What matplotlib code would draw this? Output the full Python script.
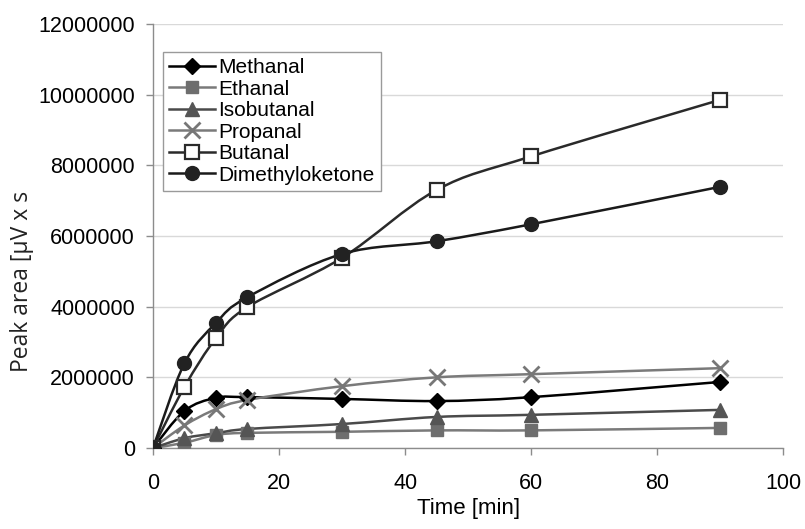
"""Peak area of carbonyl compounds over time (smoothed Excel-style lines)."""

import matplotlib

matplotlib.use("Agg")
import matplotlib.pyplot as plt
import numpy as np
from matplotlib.lines import Line2D
from matplotlib.patches import PathPatch
from matplotlib.path import Path


time_min = [0, 5, 10, 15, 30, 45, 60, 90]

methanal = [0, 1050000, 1420000, 1440000, 1390000, 1330000, 1440000, 1870000]
ethanal = [0, 150000, 370000, 430000, 460000, 500000, 500000, 570000]
isobutanal = [0, 280000, 420000, 540000, 680000, 880000, 940000, 1080000]
propanal = [0, 640000, 1100000, 1360000, 1750000, 2000000, 2090000, 2260000]
butanal = [0, 1730000, 3110000, 3990000, 5380000, 7300000, 8250000, 9850000]
dimethyloketone = [0, 2400000, 3540000, 4270000, 5490000, 5850000, 6330000, 7390000]

labels = ["Methanal", "Ethanal", "Isobutanal", "Propanal", "Butanal", "Dimethyloketone"]

x_ticks = [0, 20, 40, 60, 80, 100]
y_ticks = [0, 2000000, 4000000, 6000000, 8000000, 10000000, 12000000]

TICK_FONT = "Liberation Sans"


def smooth_path(x, y):
    """Bezier path through the points (Catmull-Rom, like Excel smoothed lines)."""
    pts = np.column_stack([x, y]).astype(float)
    padded = np.vstack([pts[0], pts, pts[-1]])
    verts = [pts[0]]
    codes = [Path.MOVETO]
    for i in range(len(pts) - 1):
        p0, p1, p2, p3 = padded[i], padded[i + 1], padded[i + 2], padded[i + 3]
        c1 = p1 + (p2 - p0) / 6.0
        c2 = p2 - (p3 - p1) / 6.0
        verts += [c1, c2, p2]
        codes += [Path.CURVE4] * 3
    return Path(verts, codes)


def main():
    fig = plt.figure(figsize=(8.05, 5.29), dpi=100)
    ax = fig.add_axes([0.190, 0.153, 0.783, 0.802])

    series = [
        (methanal, "#000000", dict(marker="D", ms=8, mfc="#000000", mec="#000000")),
        (ethanal, "#7a7a7a", dict(marker="s", ms=9, mfc="#6e6e6e", mec="#6e6e6e")),
        (isobutanal, "#4a4a4a", dict(marker="^", ms=10, mfc="#555555", mec="#555555")),
        (propanal, "#7a7a7a", dict(marker="x", ms=11, mew=2, mec="#777777")),
        (butanal, "#2a2a2a", dict(marker="s", ms=10, mfc="white", mec="#2a2a2a", mew=1.6)),
        (dimethyloketone, "#1a1a1a", dict(marker="o", ms=10, mfc="#222222", mec="#222222")),
    ]

    handles = []
    for values, line_color, mstyle in series:
        patch = PathPatch(smooth_path(time_min, values), facecolor="none",
                          edgecolor=line_color, lw=1.8, zorder=2)
        ax.add_patch(patch)
        ax.plot(time_min, values, ls="none", zorder=3, **mstyle)
        handles.append(Line2D([], [], color=line_color, lw=1.8, **mstyle))

    ax.set_xlim(0, 100)
    ax.set_ylim(0, 12000000)
    ax.set_xticks(x_ticks)
    ax.set_yticks(y_ticks)
    ax.set_xticklabels([str(t) for t in x_ticks], fontsize=15.5, family=TICK_FONT)
    ax.set_yticklabels([str(t) for t in y_ticks], fontsize=15.5, family=TICK_FONT)

    ax.grid(axis="y", color="#d9d9d9", lw=1.0)
    ax.set_axisbelow(True)
    for side in ("top", "right"):
        ax.spines[side].set_visible(False)
    for side in ("left", "bottom"):
        ax.spines[side].set_color("#8c8c8c")
        ax.spines[side].set_linewidth(1.0)
    ax.tick_params(axis="both", colors="#8c8c8c", length=5, width=1.0, labelcolor="black")
    ax.tick_params(axis="y", pad=8)
    ax.tick_params(axis="x", pad=13)

    ax.set_xlabel("Time [min]", fontsize=16, family=TICK_FONT, labelpad=3)
    fig.text(0.027, 0.297, "Peak area [µV x s", rotation=90, ha="center", va="bottom",
             fontsize=16.5, family="Open Sans", color="#222222")

    leg = ax.legend(handles, labels, loc="upper left", bbox_to_anchor=(0.016, 0.934),
                    borderaxespad=0, fancybox=False, framealpha=1, edgecolor="#9a9a9a",
                    prop={"family": TICK_FONT, "size": 15}, handlelength=2.2,
                    handletextpad=0.15, labelspacing=0.12, borderpad=0.3)
    leg.get_frame().set_linewidth(1.0)

    fig.savefig("out.png", dpi=100)
    plt.close(fig)


if __name__ == "__main__":
    main()
